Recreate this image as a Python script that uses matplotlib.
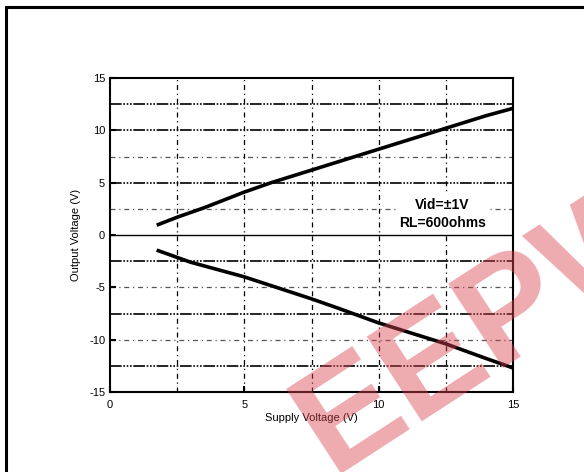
import matplotlib
matplotlib.use('Agg')
import matplotlib.pyplot as plt
from matplotlib.patches import Rectangle

plt.rcParams['font.family'] = ['Liberation Sans', 'DejaVu Sans']
plt.rcParams['axes.unicode_minus'] = False

# data
vs_pos = [1.8, 2.5, 3.5, 5.0, 6.0, 7.5, 10.0, 12.5, 14.0, 15.0]
vo_pos = [1.0, 1.7, 2.6, 4.1, 5.0, 6.2, 8.2, 10.2, 11.4, 12.1]
vs_neg = [1.8, 3.0, 5.0, 7.5, 8.5, 10.0, 12.5, 14.0, 15.0]
vo_neg = [-1.5, -2.6, -4.0, -6.1, -7.0, -8.4, -10.4, -11.8, -12.7]

xticks = [0, 5, 10, 15]
yticks = [-15, -10, -5, 0, 5, 10, 15]
vgrid = [2.5, 5, 7.5, 10, 12.5]
hgrid_heavy = [12.5, 10, 5, -2.5, -7.5, -12.5]
hgrid_light = [7.5, 2.5, -5, -10]

fig = plt.figure(figsize=(5.84, 4.72), dpi=100)
fig.patches.append(Rectangle((6/584, -0.05), 1.2, 1 - 7/472 + 0.05, transform=fig.transFigure,
                             fill=False, edgecolor='black', linewidth=2.2))
ax = fig.add_axes([110/584, 1 - 392/472, 403/584, 314/472])

for v in vgrid:
    ax.axvline(v, color='black', lw=0.9, ls=(0, (4, 3, 1, 3)), zorder=1)
for h in hgrid_heavy:
    ax.axhline(h, color='black', lw=1.2, ls=(0, (7, 1, 1, 1, 1, 1, 1, 1)), zorder=1)
for h in hgrid_light:
    ax.axhline(h, color='#555555', lw=0.9, ls=(0, (4, 3, 1, 3)), zorder=1)
ax.axhline(0, color='black', lw=1.0, zorder=1)

ax.plot(vs_pos, vo_pos, color='black', lw=2.6, zorder=3)
ax.plot(vs_neg, vo_neg, color='black', lw=2.6, zorder=3)

ax.text(12.36, 2.0, 'Vid=\u00b11V\nRL=600ohms', ha='center', va='center', fontsize=10,
        fontweight='bold', linespacing=1.35, zorder=4,
        bbox=dict(facecolor='white', edgecolor='none', pad=2))

ax.set_xlim(0, 15)
ax.set_ylim(-15, 15)
ax.set_xticks(xticks)
ax.set_yticks(yticks)
ax.tick_params(direction='in', length=4, width=1.5, labelsize=8)
ax.tick_params(axis='x', pad=6)
for s in ax.spines.values():
    s.set_linewidth(1.5)
ax.set_xlabel('Supply Voltage (V)', fontsize=8, labelpad=2)
ax.set_ylabel('Output Voltage (V)', fontsize=8, labelpad=6)

# watermark
fig.text(0.84, 0.31, 'EEPW', fontsize=105, fontweight='bold', color='#d9434f', alpha=0.45,
         rotation=33, ha='center', va='center', zorder=10)

fig.savefig('out.png', dpi=100)
